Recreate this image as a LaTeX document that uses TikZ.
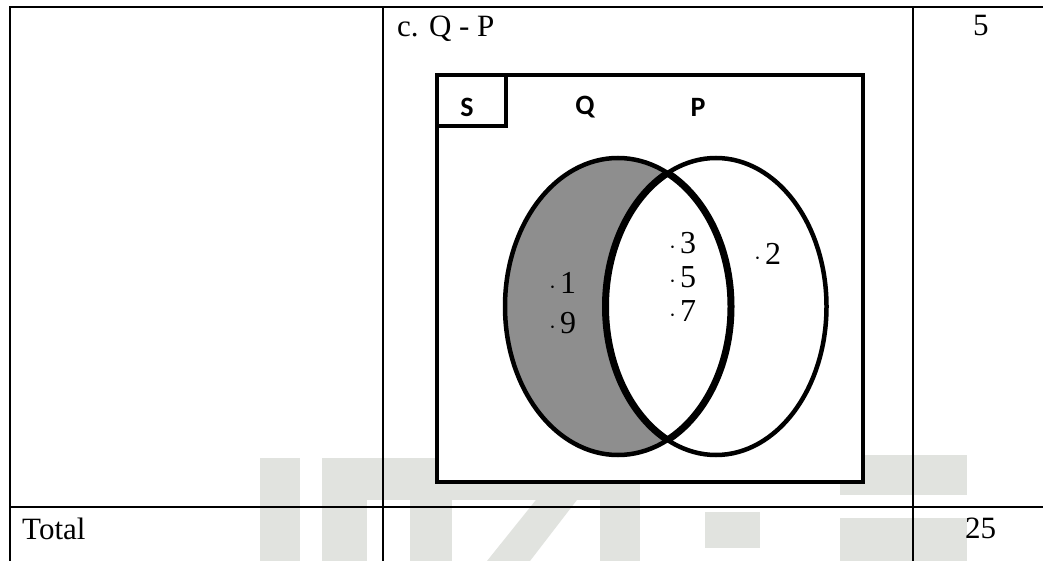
\documentclass[tikz,border=0pt]{standalone}
\usepackage{fontspec}
\newfontfamily\tnr{Liberation Serif}
\newfontfamily\calib{Carlito}
\definecolor{wmgray}{HTML}{E1E3DF}
\definecolor{qfill}{HTML}{8E8E8E}
\begin{document}
\begin{tikzpicture}[x=1pt,y=-1pt,
  tline/.style={line width=2pt},
  boxline/.style={line width=4.5pt},
  outline/.style={line width=4.5pt},
  lensline/.style={line width=7pt},
  wm/.style={fill=wmgray},
  tabtext/.style={font=\tnr\fontsize{31}{36}\selectfont, inner sep=0pt, anchor=base west},
  lab/.style={font=\calib\bfseries\fontsize{28}{32}\selectfont, inner sep=0pt},
  num/.style={font=\tnr\fontsize{32}{36}\selectfont, inner sep=0pt, anchor=base west}]
\useasboundingbox (0,0) rectangle (1043,561);
\fill[white] (0,0) rectangle (1043,561);
% watermark
\fill[wm] (260,458) rectangle (300,561);
\fill[wm] (322,458) rectangle (367,561);
\fill[wm] (410,458) rectangle (452,561);
\fill[wm] (322,458) rectangle (640,500);
\fill[wm] (487,561) -- (530,561) -- (600,470) -- (560,470) -- cycle;
\fill[wm] (600,458) rectangle (640,561);
\fill[wm] (705,512) rectangle (760,548);
\fill[wm] (840,455) rectangle (967,495);
\fill[wm] (840,518) rectangle (967,561);
% table
\coordinate (t0) at (9,7.5);
\coordinate (t1) at (1043,7.5);
\coordinate (m0) at (10,507);
\coordinate (m1) at (1043,507);
\draw[tline] (t0) -- (t1);
\draw[tline] (m0) -- (m1);
\draw[tline] (10,6.5) -- (10,561);
\draw[tline] (383,6.5) -- (383,561);
\draw[tline] (913,6.5) -- (913,561);
\node[tabtext] (title) at (397,37) {c. Q - P};
\node[tabtext] (five) at (973,36) {5};
\node[tabtext] (total) at (22,539) {Total};
\node[tabtext] (tf) at (965,538) {25};
% universe box
\draw[boxline, fill=white] (437,75) rectangle (863,482);
\draw[boxline] (437,75) rectangle (506,126);
\node[lab] (S) at (467,107) {S};
\node[lab] (Q) at (585,107) {Q};
\node[lab] (P) at (698,107) {P};
% venn
\def\Qell{(618,306.5) ellipse [x radius=113, y radius=148.5]}
\def\Pell{(716,306.5) ellipse [x radius=110.5, y radius=148.5]}
\fill[qfill] \Qell;
\fill[white] \Pell;
\draw[outline] \Qell;
\draw[outline] \Pell;
\begin{scope}
  \clip \Qell;
  \draw[lensline] \Pell;
\end{scope}
\begin{scope}
  \clip \Pell;
  \draw[lensline] \Qell;
\end{scope}
\newcommand{\vd}[1]{$\cdot$\hspace{4pt}#1}
\node[num] (n1) at (549,293) {\vd{1}};
\node[num] (n9) at (549,333) {\vd{9}};
\node[num] (n3) at (669,253) {\vd{3}};
\node[num] (n5) at (669,287) {\vd{5}};
\node[num] (n7) at (669,321) {\vd{7}};
\node[num] (n2) at (754,265) {\vd{2}};
\end{tikzpicture}
\end{document}
